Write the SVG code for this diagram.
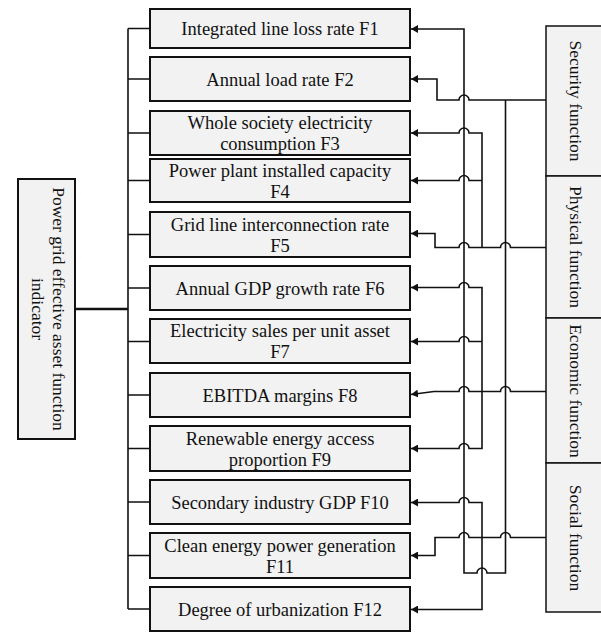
<svg xmlns="http://www.w3.org/2000/svg" width="601" height="632" viewBox="0 0 601 632">
<style>
.box{fill:#f2f2f2;stroke:#111;stroke-width:2}
.side{fill:#f2f2f2;stroke:#111;stroke-width:1.5}
.t{font-family:"Liberation Serif","Times New Roman",serif;font-size:18.5px;fill:#111;text-anchor:middle}
.ts{font-family:"Liberation Serif","Times New Roman",serif;font-size:17.5px;fill:#111;text-anchor:middle}
.c{fill:none;stroke:#111;stroke-width:1.6}
.ca{fill:none;stroke:#111;stroke-width:1.6;marker-end:url(#ah)}
</style>
<defs>
<marker id="ah" viewBox="0 0 10 10" refX="10" refY="5" markerWidth="7" markerHeight="8" markerUnits="userSpaceOnUse" orient="auto" preserveAspectRatio="none"><path d="M0,0 L10,5 L0,10 z" fill="#111"/></marker>
</defs>
<rect width="601" height="632" fill="#fff"/>

<g id="root">
<rect class="box" x="18" y="179" width="57" height="260"/>
<text class="ts" transform="translate(53,309) rotate(90)">Power grid effective asset function</text>
<text class="ts" transform="translate(32,309) rotate(90)">indicator</text>
</g>

<g id="F1"><rect class="box" x="150" y="9" width="260" height="39"/><text class="t" x="280" y="35">Integrated line loss rate F1</text></g>
<g id="F2"><rect class="box" x="150" y="57" width="260" height="44"/><text class="t" x="280" y="85.5">Annual load rate F2</text></g>
<g id="F3"><rect class="box" x="150" y="111" width="260" height="44"/><text class="t" x="280" y="129">Whole society electricity</text><text class="t" x="280" y="150">consumption F3</text></g>
<g id="F4"><rect class="box" x="150" y="159" width="260" height="43"/><text class="t" x="280" y="176.5">Power plant installed capacity</text><text class="t" x="280" y="197.5">F4</text></g>
<g id="F5"><rect class="box" x="150" y="212" width="260" height="45"/><text class="t" x="280" y="230.5">Grid line interconnection rate</text><text class="t" x="280" y="251.5">F5</text></g>
<g id="F6"><rect class="box" x="150" y="266" width="260" height="44"/><text class="t" x="280" y="294.5">Annual GDP growth rate F6</text></g>
<g id="F7"><rect class="box" x="150" y="319" width="260" height="44"/><text class="t" x="280" y="337">Electricity sales per unit asset</text><text class="t" x="280" y="358">F7</text></g>
<g id="F8"><rect class="box" x="150" y="373" width="260" height="44"/><text class="t" x="280" y="401.5">EBITDA margins F8</text></g>
<g id="F9"><rect class="box" x="150" y="426" width="260" height="45"/><text class="t" x="280" y="444.5">Renewable energy access</text><text class="t" x="280" y="465.5">proportion F9</text></g>
<g id="F10"><rect class="box" x="150" y="480" width="260" height="44"/><text class="t" x="280" y="508.5">Secondary industry GDP F10</text></g>
<g id="F11"><rect class="box" x="150" y="533" width="260" height="45"/><text class="t" x="280" y="551.5">Clean energy power generation</text><text class="t" x="280" y="572.5">F11</text></g>
<g id="F12"><rect class="box" x="150" y="587" width="260" height="44"/><text class="t" x="280" y="615.5">Degree of urbanization F12</text></g>

<g id="security"><rect class="side" x="546" y="26" width="70" height="150"/><text class="ts" transform="translate(570,101) rotate(90)">Security function</text></g>
<g id="physical"><rect class="side" x="546" y="176" width="70" height="142"/><text class="ts" transform="translate(570,247) rotate(90)">Physical function</text></g>
<g id="economic"><rect class="side" x="546" y="318" width="70" height="145"/><text class="ts" transform="translate(570,391) rotate(90)">Economic function</text></g>
<g id="social"><rect class="side" x="546" y="463" width="70" height="149"/><text class="ts" transform="translate(570,538) rotate(90)">Social function</text></g>

<g id="connectors">
<path d="M75,309 H128" fill="none" stroke="#111" stroke-width="2.6"/>
<path class="c" d="M128,28.5 V609 M128,28.5 H150 M128,79 H150 M128,133 H150 M128,180.5 H150 M128,234.5 H150 M128,288 H150 M128,341.5 H150 M128,395 H150 M128,448.5 H150 M128,502 H150 M128,555.5 H150 M128,609 H150"/>

<path class="ca" d="M546,100 H469 A5,5 0 0 0 459,100 H437 V79 H411"/>
<path class="ca" d="M505.5,100 V573 H487 A5,5 0 0 0 477,573 H464 V29 H411"/>

<path class="ca" d="M546,247.5 H510.5 A5,5 0 0 0 500.5,247.5 H469 A5,5 0 0 0 459,247.5 H435 V233.5 H411"/>
<path class="ca" d="M482,247.5 V133 H469 A5,5 0 0 0 459,133 H411"/>
<path class="ca" d="M482,180.5 H469 A5,5 0 0 0 459,180.5 H411"/>

<path class="ca" d="M546,391.5 H510.5 A5,5 0 0 0 500.5,391.5 H469 A5,5 0 0 0 459,391.5 H434 L411,394.5"/>
<path class="ca" d="M482,391.5 V287.5 H469 A5,5 0 0 0 459,287.5 H411"/>
<path class="ca" d="M482,341.5 H469 A5,5 0 0 0 459,341.5 H411"/>
<path class="ca" d="M482,391.5 V448.5 H469 A5,5 0 0 0 459,448.5 H411"/>

<path class="ca" d="M546,537.5 H510.5 A5,5 0 0 0 500.5,537.5 H469 A5,5 0 0 0 459,537.5 H435 V555.5 H411"/>
<path class="ca" d="M482,537.5 V502.5 H469 A5,5 0 0 0 459,502.5 H411"/>
<path class="ca" d="M482,537.5 V609.5 H411"/>
</g>
</svg>
